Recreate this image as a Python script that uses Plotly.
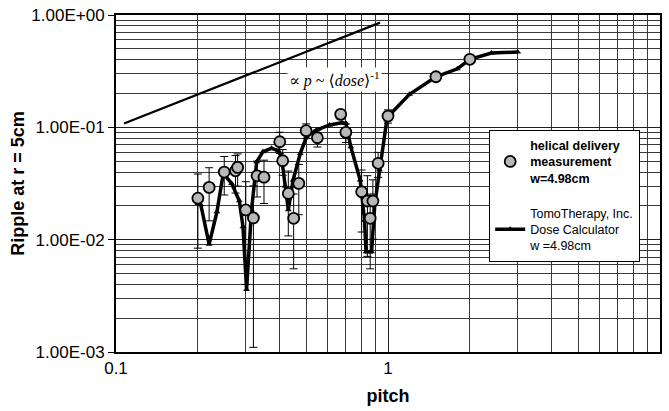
import plotly.graph_objects as go

# ---- data ----
meas_p = [0.20, 0.22, 0.25, 0.275, 0.28, 0.30, 0.32, 0.33, 0.35, 0.40, 0.41, 0.43, 0.45,
          0.47, 0.50, 0.55, 0.67, 0.70, 0.80, 0.84, 0.86, 0.88, 0.92, 1.00, 1.50, 2.00]
meas_v = [0.0234, 0.0292, 0.0400, 0.0410, 0.0440, 0.0184, 0.0156, 0.0370, 0.0360, 0.0744,
          0.0504, 0.0258, 0.0155, 0.0317, 0.0933, 0.0808, 0.1305, 0.0902, 0.0267, 0.0221,
          0.0155, 0.0221, 0.0478, 0.1260, 0.2820, 0.4030]
meas_err = [0.015, 0.0145, 0.015, 0.015, 0.014, 0.0144, 0.0145, 0.013, 0.015, 0.016,
            0.013, 0.015, 0.010, 0.015, 0.014, 0.014, 0.012, 0.017, 0.015, 0.015,
            0.010, 0.012, 0.012, 0.017, 0.010, 0.010]

calc_p = [0.200, 0.205, 0.220, 0.235, 0.248, 0.266, 0.284, 0.293, 0.302, 0.315,
          0.329, 0.347, 0.373, 0.395, 0.406, 0.418, 0.430, 0.448, 0.476, 0.502,
          0.546, 0.610, 0.675, 0.700, 0.730, 0.790, 0.820, 0.830, 0.870, 0.895,
          0.930, 0.990, 1.000, 1.200, 1.500, 1.800, 2.000, 2.400, 3.000]
calc_v = [0.0210, 0.0205, 0.0091, 0.0177, 0.0390, 0.0317, 0.0222, 0.0130, 0.0036, 0.0184,
          0.0494, 0.0607, 0.0650, 0.0620, 0.0540, 0.0300, 0.0185, 0.0340, 0.0586, 0.0826,
          0.0945, 0.1050, 0.1100, 0.1090, 0.0670, 0.0340, 0.0149, 0.0078, 0.0078, 0.0210,
          0.0420, 0.1160, 0.1250, 0.1970, 0.2820, 0.3320, 0.4030, 0.4590, 0.4680]

power_p = [0.107, 0.935]
power_v = [0.108, 0.855]

x_ticks = [0.1, 1, 10]
x_ticktext = ["0.1", "1", "10"]
y_ticks = [0.001, 0.01, 0.1, 1]
y_ticktext = ["1.00E-03", "1.00E-02", "1.00E-01", "1.00E+00"]
x_minor = [0.2, 0.3, 0.4, 0.5, 0.6, 0.7, 0.8, 0.9, 2, 3, 4, 5, 6, 7, 8, 9]
y_minor = [m * d for d in (0.001, 0.01, 0.1) for m in (2, 3, 4, 5, 6, 7, 8, 9)]

FONT = "Liberation Sans, Arial, sans-serif"

fig = go.Figure()

fig.add_trace(go.Scatter(
    x=power_p, y=power_v, mode="lines",
    line=dict(color="black", width=2.2), showlegend=False, hoverinfo="skip"))

fig.add_trace(go.Scatter(
    x=calc_p, y=calc_v, mode="lines+markers",
    name="TomoTherapy, Inc.<br>Dose Calculator<br>w =4.98cm",
    line=dict(color="black", width=3.5),
    marker=dict(symbol="triangle-up", size=6, color="black"),
    legendgroup="b", legendrank=2))

fig.add_trace(go.Scatter(
    x=meas_p, y=meas_v, mode="markers",
    name="<b>helical delivery<br>measurement<br>w=4.98cm</b>",
    marker=dict(symbol="circle", size=11, color="#b8b8b8",
                line=dict(color="black", width=1.8)),
    error_y=dict(type="data", array=meas_err, visible=True,
                 color="black", thickness=1, width=4),
    legendgroup="a", legendrank=1))

fig.add_annotation(
    x=0.401, y=0.845, xref="paper", yref="paper",
    text="∝ <i>p</i> ~ ⟨<i>dose</i>⟩<sup>-1</sup>",
    showarrow=False, bgcolor="white",
    font=dict(family="Liberation Serif, DejaVu Serif, serif", size=16, color="black"))

axis_common = dict(showline=True, linecolor="black", linewidth=2, mirror=True,
                   showgrid=True, gridcolor="#202020", gridwidth=1, zeroline=False)

fig.update_xaxes(
    type="log", range=[-1, 1], tickvals=x_ticks, ticktext=x_ticktext,
    ticks="", tickfont=dict(family=FONT, size=17, color="black"),
    title=dict(text="<b>pitch</b>", font=dict(family=FONT, size=18, color="black"),
               standoff=12),
    minor=dict(tickvals=x_minor, showgrid=True, gridcolor="#3a3a3a", gridwidth=1, ticks=""),
    **axis_common)

fig.update_yaxes(
    type="log", range=[-3, 0], tickvals=y_ticks, ticktext=y_ticktext,
    ticks="outside", ticklen=6, tickcolor="black",
    tickfont=dict(family=FONT, size=17, color="black"),
    title=dict(text="<b>Ripple at r = 5cm</b>", font=dict(family=FONT, size=18, color="black"),
               standoff=2),
    minor=dict(tickvals=y_minor, showgrid=True, gridcolor="#3a3a3a", gridwidth=1, ticks=""),
    **axis_common)

fig.update_layout(
    width=669, height=411,
    margin=dict(l=116, r=9, t=15, b=59, autoexpand=False),
    paper_bgcolor="white", plot_bgcolor="white",
    font=dict(family=FONT, color="black"),
    legend=dict(x=0.686, y=0.66, xanchor="left", yanchor="top",
                bgcolor="white", bordercolor="black", borderwidth=1,
                font=dict(family=FONT, size=12.5, color="black"),
                tracegroupgap=16, itemwidth=30),
)

fig.write_html("out.html")
